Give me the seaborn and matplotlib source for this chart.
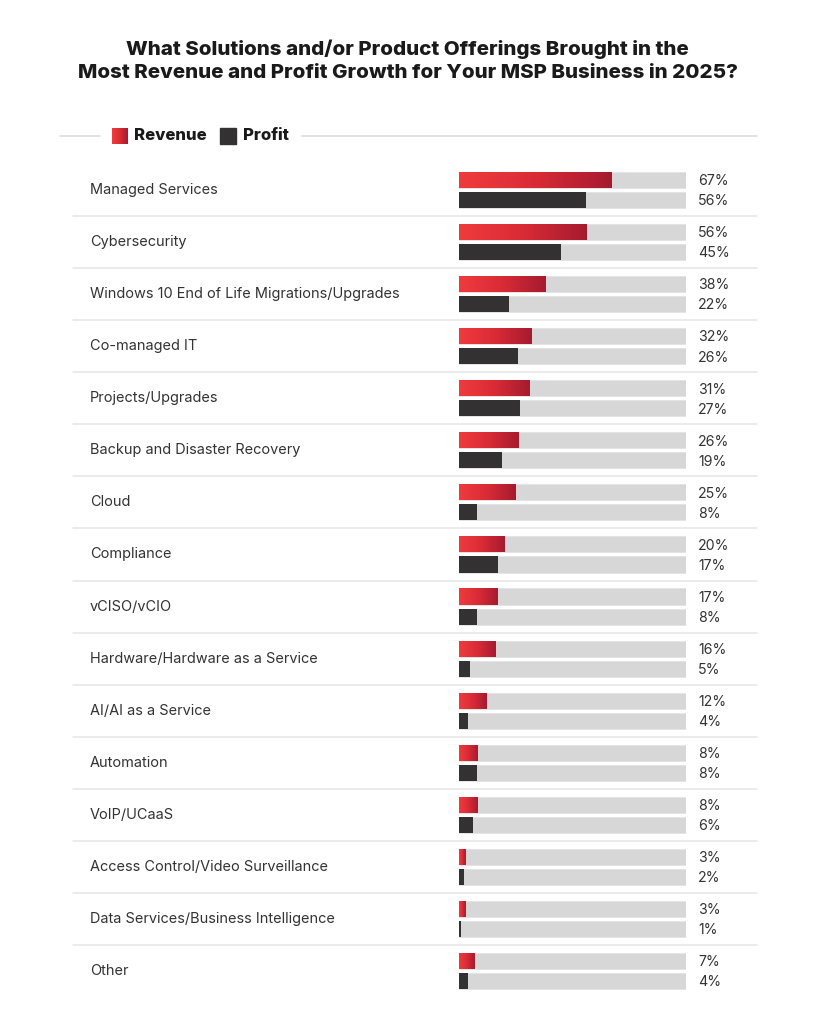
import numpy as np
import pandas as pd
import matplotlib
matplotlib.use("Agg")
import matplotlib.pyplot as plt
import matplotlib.transforms as mtransforms
from matplotlib.lines import Line2D
from matplotlib.patches import Rectangle
from matplotlib.colors import LinearSegmentedColormap
import seaborn as sns

categories = [
    "Managed Services", "Cybersecurity", "Windows 10 End of Life Migrations/Upgrades",
    "Co-managed IT", "Projects/Upgrades", "Backup and Disaster Recovery", "Cloud",
    "Compliance", "vCISO/vCIO", "Hardware/Hardware as a Service", "AI/AI as a Service",
    "Automation", "VoIP/UCaaS", "Access Control/Video Surveillance",
    "Data Services/Business Intelligence", "Other",
]
revenue = [67, 56, 38, 32, 31, 26, 25, 20, 17, 16, 12, 8, 8, 3, 3, 7]
profit = [56, 45, 22, 26, 27, 19, 8, 17, 8, 5, 4, 8, 6, 2, 1, 4]
series = ["Revenue", "Profit"]
title = ("What Solutions and/or Product Offerings Brought in the\n"
         "Most Revenue and Profit Growth for Your MSP Business in 2025?")

df = pd.DataFrame({
    "category": categories * 2,
    "series": ["Revenue"] * len(categories) + ["Profit"] * len(categories),
    "value": revenue + profit,
})
df["total"] = 100

sns.set_theme(style="white")
plt.rcParams["font.family"] = ["Inter", "DejaVu Sans"]

W, H = 815, 1024
fig = plt.figure(figsize=(W / 100, H / 100), dpi=100)
fig.patch.set_facecolor("white")

def fx(px):
    return px / W

def fy(py):
    return 1 - py / H

ax_left, ax_right = 459, 686
ax_top, ax_bot = 164, 997
ax = fig.add_axes([fx(ax_left), fy(ax_bot), fx(ax_right - ax_left), (ax_bot - ax_top) / H])

RED = "#e8333a"
DARK = "#333132"
GRAY = "#d7d7d7"
TXT = "#333333"

sns.barplot(data=df, y="category", x="total", hue="series", hue_order=series,
            order=categories, palette=[GRAY, GRAY], width=0.77, gap=0.2,
            legend=False, ax=ax, edgecolor="#e4e4e4", linewidth=0.6, errorbar=None)
sns.barplot(data=df, y="category", x="value", hue="series", hue_order=series,
            order=categories, palette=[RED, DARK], width=0.77, gap=0.2,
            legend=False, ax=ax, linewidth=0, errorbar=None)

ax.set_xlim(0, 100)
ax.set_ylim(len(categories) - 0.5, -0.5)
ax.set_axis_off()

cmap = LinearSegmentedColormap.from_list("rg", ["#f03b3d", "#d92b36", "#a51b2f"])
grad = np.linspace(0, 1, 256).reshape(1, -1)

rev_container = ax.containers[2]
for patch in rev_container:
    x0, y0 = patch.get_x(), patch.get_y()
    w, h = patch.get_width(), patch.get_height()
    if w <= 0:
        continue
    im = ax.imshow(grad, cmap=cmap, aspect="auto",
                   extent=[x0, x0 + w, y0 + h, y0], zorder=patch.get_zorder() + 0.1,
                   interpolation="bicubic")
    im.set_clip_path(patch)
ax.set_xlim(0, 100)
ax.set_ylim(len(categories) - 0.5, -0.5)

trans = mtransforms.blended_transform_factory(fig.transFigure, ax.transData)

# category labels and separators
for i, cat in enumerate(categories):
    ax.text(fx(90), i, cat, transform=trans, ha="left", va="center",
            fontsize=10.45, color=TXT)
    if i < len(categories) - 1:
        ln = Line2D([fx(73), fx(757)], [i + 0.5, i + 0.5], transform=trans,
                    color="#e6e6e6", lw=1.1, clip_on=False)
        ax.add_line(ln)

# value labels
for cont, vals in ((ax.containers[2], revenue), (ax.containers[3], profit)):
    for patch, v in zip(cont, vals):
        yc = patch.get_y() + patch.get_height() / 2 + 0.025
        ax.text(fx(698), yc, f"{v}%", transform=trans, ha="left", va="center",
                fontsize=10.2, color=TXT)

# title
fig.text(0.5, fy(61), title, ha="center", va="center", fontsize=14.8,
         fontweight="heavy", color="#1a1a1a", linespacing=1.33)

# legend
ly = fy(136)
fig.add_artist(Line2D([fx(60), fx(100)], [ly, ly], color="#dddddd", lw=1.2))
fig.add_artist(Line2D([fx(302), fx(757)], [ly, ly], color="#dddddd", lw=1.2))
lax = fig.add_axes([fx(112), fy(144), fx(16), 16 / H])
lax.imshow(grad, cmap=cmap, aspect="auto", extent=[0, 1, 0, 1])
lax.set_axis_off()
fig.text(fx(134), ly, "Revenue", ha="left", va="center", fontsize=12,
         fontweight="heavy", color="#1a1a1a")
fig.add_artist(Rectangle((fx(220), fy(144)), fx(16), 16 / H, transform=fig.transFigure,
                         color=DARK))
fig.text(fx(243), ly, "Profit", ha="left", va="center", fontsize=12,
         fontweight="heavy", color="#1a1a1a")

fig.savefig("out.png", dpi=100, facecolor="white")
